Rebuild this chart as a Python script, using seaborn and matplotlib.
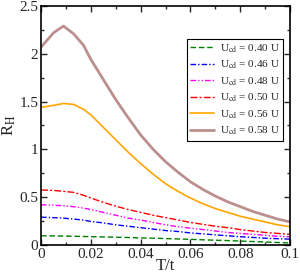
import matplotlib
matplotlib.use("Agg")
import matplotlib.pyplot as plt
from matplotlib.ticker import MultipleLocator
import seaborn as sns
import pandas as pd

sns.set_theme(style="ticks")
plt.rcParams['font.family'] = ['Liberation Serif', 'DejaVu Serif']
plt.rcParams['mathtext.fontset'] = 'stix'

# valores
T = [0.0, 0.005, 0.009, 0.013, 0.017, 0.02, 0.025, 0.03, 0.035, 0.04, 0.045, 0.05,
     0.055, 0.06, 0.065, 0.07, 0.075, 0.08, 0.085, 0.09, 0.095, 0.1]
r_058 = [2.07, 2.22, 2.29, 2.21, 2.09, 1.94, 1.73, 1.52, 1.33, 1.15, 1.00, 0.87,
         0.76, 0.66, 0.58, 0.51, 0.45, 0.40, 0.35, 0.31, 0.27, 0.24]
r_056 = [1.44, 1.46, 1.48, 1.47, 1.42, 1.36, 1.23, 1.10, 0.97, 0.85, 0.74, 0.64,
         0.56, 0.49, 0.43, 0.38, 0.34, 0.30, 0.27, 0.24, 0.21, 0.19]
r_050 = [0.575, 0.57, 0.56, 0.55, 0.52, 0.49, 0.445, 0.405, 0.37, 0.34, 0.31, 0.285,
         0.26, 0.235, 0.215, 0.195, 0.18, 0.16, 0.145, 0.13, 0.12, 0.11]
r_048 = [0.42, 0.415, 0.41, 0.40, 0.385, 0.37, 0.34, 0.31, 0.28, 0.26, 0.235, 0.21,
         0.19, 0.175, 0.16, 0.145, 0.13, 0.12, 0.11, 0.10, 0.09, 0.085]
r_046 = [0.29, 0.285, 0.28, 0.27, 0.26, 0.245, 0.23, 0.21, 0.195, 0.18, 0.165, 0.15,
         0.14, 0.125, 0.115, 0.105, 0.095, 0.085, 0.078, 0.07, 0.065, 0.06]
r_040 = [0.095, 0.094, 0.092, 0.09, 0.088, 0.086, 0.083, 0.08, 0.077, 0.073, 0.07, 0.066,
         0.062, 0.058, 0.053, 0.049, 0.045, 0.04, 0.035, 0.03, 0.025, 0.02]

etiquetas = [r'U$_{\rm cd}$ = 0.40 U', r'U$_{\rm cd}$ = 0.46 U', r'U$_{\rm cd}$ = 0.48 U',
             r'U$_{\rm cd}$ = 0.50 U', r'U$_{\rm cd}$ = 0.56 U', r'U$_{\rm cd}$ = 0.58 U']
series = [r_040, r_046, r_048, r_050, r_056, r_058]

df = pd.concat([pd.DataFrame({'T': T, 'RH': s, 'Ucd': e}) for s, e in zip(series, etiquetas)])

colores = ['#008000', '#0000ff', '#ff00ff', '#ff0000', '#ffa500', '#bc8f8f']
estilos = [(4, 2), (4, 1.5, 1, 1.5), (4, 1.5, 1, 1.5, 1, 1.5), (5, 1.5, 1.5, 1.5), '', '']
anchos = [1, 1, 1, 1, 1.2, 2]

fig = plt.figure(figsize=(3.0, 2.73), dpi=100)
ax = fig.add_axes([0.137, 0.103, 0.83, 0.875])

for e, c, ls, lw in zip(etiquetas, colores, estilos, anchos):
    sub = df[df['Ucd'] == e]
    sns.lineplot(data=sub, x='T', y='RH', ax=ax, color=c, linewidth=lw, label=e)
    if ls:
        ax.get_lines()[-1].set_dashes(ls)

ax.set_xlim(0, 0.1)
ax.set_ylim(0, 2.5)
ax.set_xticks([0, 0.02, 0.04, 0.06, 0.08, 0.1])
ax.set_xticklabels(['0', '0.02', '0.04', '0.06', '0.08', '0.1'])
ax.set_yticks([0, 0.5, 1, 1.5, 2, 2.5])
ax.set_yticklabels(['0', '0.5', '1', '1.5', '2', '2.5'])
ax.xaxis.set_minor_locator(MultipleLocator(0.01))
ax.yaxis.set_minor_locator(MultipleLocator(0.25))
ax.tick_params(which='both', direction='in', top=True, right=True, labelsize=11, pad=2)
ax.tick_params(which='major', length=4, width=1)
ax.tick_params(which='minor', length=2, width=1)
for s in ax.spines.values():
    s.set_linewidth(1.2)
    s.set_color('black')

ax.set_xlabel('T/t', fontsize=12, labelpad=-2)
ax.set_ylabel(r'R$_{\rm H}$', fontsize=12, labelpad=1)

leg = ax.legend(loc='upper right', bbox_to_anchor=(0.995, 0.885), fontsize=8,
                frameon=True, fancybox=False, edgecolor='black', framealpha=1,
                handlelength=2.2, labelspacing=0.36, borderpad=0.3, handletextpad=0.5)
leg.get_frame().set_linewidth(0.8)

fig.savefig('out.png', dpi=100)
